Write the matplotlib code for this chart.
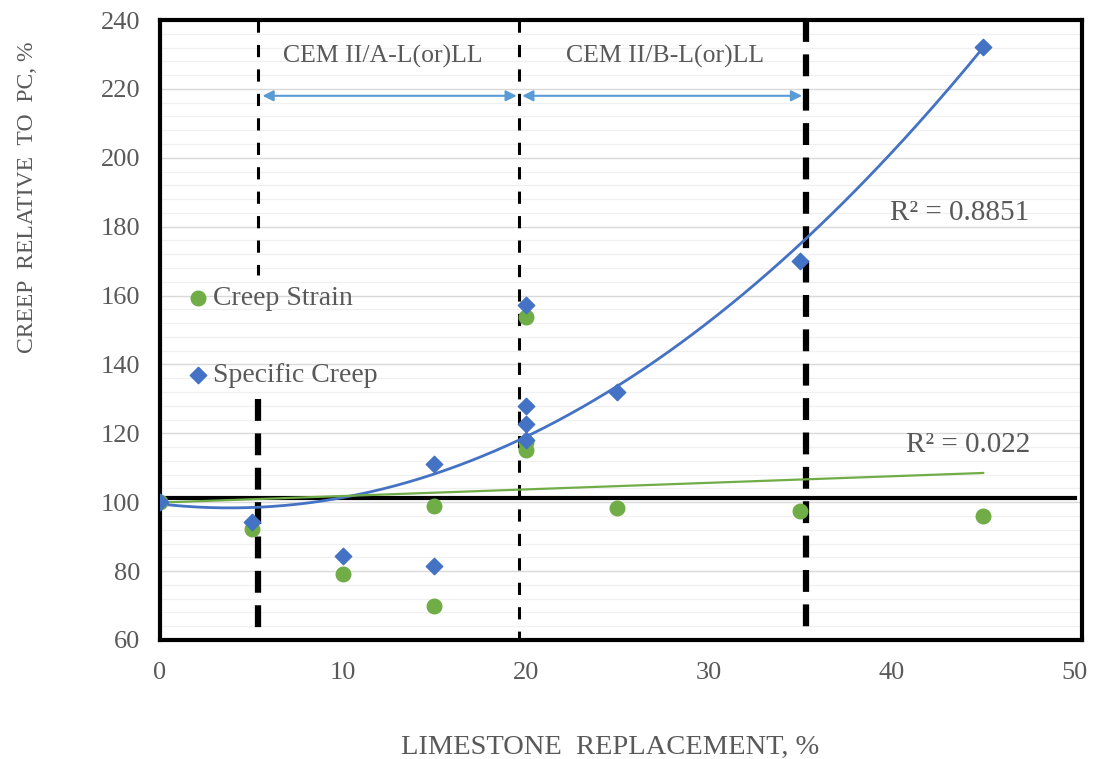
import numpy as np
import matplotlib
matplotlib.use("Agg")
from matplotlib import pyplot as plt

# limestone replacement (%) and creep relative to PC (%)
strain_x = [0, 5, 10, 15, 15, 20, 20, 20, 25, 35, 45]
strain_y = [100, 92.2, 79.2, 69.9, 98.9, 153.8, 117.5, 115.2, 98.3, 97.5, 96.0]

specific_x = [0, 5, 10, 15, 15, 20, 20, 20, 20, 25, 35, 45]
specific_y = [100, 94.3, 84.4, 81.5, 111.1, 157.3, 127.9, 122.7, 118.1, 132.0, 170.0, 232.2]

# trendline coefficients as drawn in the original chart (highest power first)
specific_trend = [0.0788, -0.601, 99.5]
strain_trend = [0.191, 99.9]
trend_x_max = 45

x_ticks = [0, 10, 20, 30, 40, 50]
y_ticks = [60, 80, 100, 120, 140, 160, 180, 200, 220, 240]

GREEN = "#70AD47"
BLUE = "#4472C4"
ARROW = "#5B9BD5"
TEXT = "#595959"

plt.rcParams["font.family"] = ["Liberation Serif", "DejaVu Serif"]

fig = plt.figure(figsize=(10.97, 7.59), dpi=100)
ax = fig.add_axes([0.1459, 0.1568, 0.8404, 0.8168])

# gridlines
ax.set_yticks(y_ticks)
ax.set_yticks(np.arange(60, 241, 4), minor=True)
ax.grid(axis="y", which="major", color="#D9D9D9", lw=1.0, zorder=0)
ax.grid(axis="y", which="minor", color="#F0F0F0", lw=0.9, zorder=0)
ax.tick_params(axis="y", which="minor", length=0)
ax.tick_params(axis="both", which="major", length=0, labelsize=19, colors=TEXT)
ax.tick_params(axis="y", pad=14)
ax.tick_params(axis="x", pad=16)
ax.set_axisbelow(True)

# trendlines
xs = np.linspace(0, trend_x_max, 200)
ax.plot(xs, np.polyval(specific_trend, xs), color=BLUE, lw=2.0, zorder=3)
ax.plot(xs, np.polyval(strain_trend, xs), color=GREEN, lw=1.6, zorder=3)

# reference line
ax.plot([0, 50], [101.2, 101.2], color="black", lw=3, zorder=2)

# limit lines for cement classes
ax.plot([5.35, 5.35], [240, 166], color="black", lw=2.2, dashes=(4, 4), zorder=2)
ax.plot([5.35, 5.35], [130, 60], color="black", lw=4.5, dashes=(3.5, 2), zorder=2)
ax.plot([19.65, 19.65], [240, 60], color="black", lw=2.2, dashes=(4, 4), zorder=2)
ax.plot([35.3, 35.3], [240, 60], color="black", lw=4.5, dashes=(3.5, 2), zorder=2)

arrowprops = dict(arrowstyle="<|-|>", color=ARROW, lw=1.5, mutation_scale=16,
                  shrinkA=0, shrinkB=0)
ax.annotate("", xy=(19.5, 218), xytext=(5.6, 218), arrowprops=arrowprops)
ax.annotate("", xy=(35.1, 218), xytext=(19.8, 218), arrowprops=arrowprops)
ax.text(12.2, 229.5, "CEM II/A-L(or)LL", ha="center", va="center", fontsize=18.5, color=TEXT)
ax.text(27.6, 229.5, "CEM II/B-L(or)LL", ha="center", va="center", fontsize=18.5, color=TEXT)

ax.scatter(strain_x, strain_y, s=110, color=GREEN, marker="o", zorder=4, label="Creep Strain")
ax.scatter(specific_x, specific_y, s=70, color=BLUE, marker="D", zorder=5, label="Specific Creep")

ax.text(43.7, 184, "R\u00b2 = 0.8851", ha="center", va="center", fontsize=21, color=TEXT)
ax.text(44.2, 116.6, "R\u00b2 = 0.022", ha="center", va="center", fontsize=21, color=TEXT)

leg = ax.legend(loc="upper left", bbox_to_anchor=(0.029, 0.571), frameon=False,
                fontsize=20, labelspacing=1.85, handletextpad=0.15, handlelength=0.8,
                borderpad=0, borderaxespad=0)
for t in leg.get_texts():
    t.set_color(TEXT)

ax.set_xlim(0, 50.4)
ax.set_ylim(60, 240)
ax.set_xticks(x_ticks)

for s in ax.spines.values():
    s.set_linewidth(3)
    s.set_color("black")

ax.set_xlabel("LIMESTONE  REPLACEMENT, %", fontsize=20.5, color=TEXT)
ax.xaxis.set_label_coords(0.488, -0.153)
ax.set_ylabel("CREEP  RELATIVE  TO  PC, %", fontsize=17, color=TEXT)
ax.yaxis.set_label_coords(-0.132, 0.714)

fig.savefig("out.png", dpi=100)
